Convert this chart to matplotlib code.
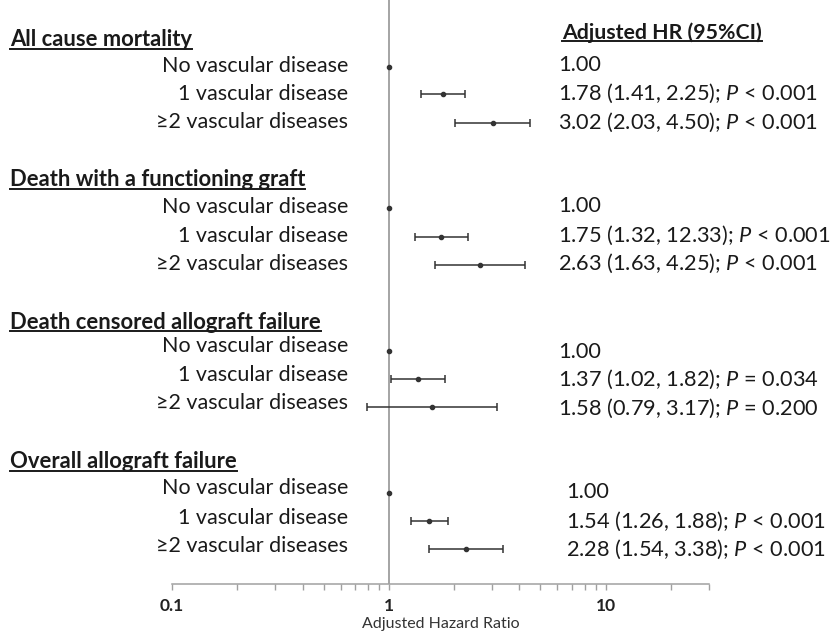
import matplotlib
matplotlib.use("Agg")
import matplotlib.pyplot as plt
from matplotlib.lines import Line2D
import numpy as np

plt.rcParams['font.family'] = ['Lato', 'DejaVu Sans']
plt.rcParams['mathtext.fontset'] = 'custom'
plt.rcParams['mathtext.rm'] = 'Lato'
plt.rcParams['mathtext.it'] = 'Lato:italic'
plt.rcParams['mathtext.bf'] = 'Lato:bold'

# ---- data ----
outcomes = ["All cause mortality", "Death with a functioning graft",
            "Death censored allograft failure", "Overall allograft failure"]
categories = ["No vascular disease", "1 vascular disease", "\u22652 vascular diseases"]
hr = [[1.00, 1.78, 3.02],
      [1.00, 1.75, 2.63],
      [1.00, 1.37, 1.58],
      [1.00, 1.54, 2.28]]
ci_low = [[1.00, 1.41, 2.03],
          [1.00, 1.32, 1.63],
          [1.00, 1.02, 0.79],
          [1.00, 1.26, 1.54]]
ci_high = [[1.00, 2.25, 4.50],
           [1.00, 2.33, 4.25],
           [1.00, 1.82, 3.17],
           [1.00, 1.88, 3.38]]
labels_right = [["1.00", "1.78 (1.41, 2.25); $P$ < 0.001", "3.02 (2.03, 4.50); $P$ < 0.001"],
                ["1.00", "1.75 (1.32, 12.33); $P$ < 0.001", "2.63 (1.63, 4.25); $P$ < 0.001"],
                ["1.00", "1.37 (1.02, 1.82); $P$ = 0.034", "1.58 (0.79, 3.17); $P$ = 0.200"],
                ["1.00", "1.54 (1.26, 1.88); $P$ < 0.001", "2.28 (1.54, 3.38); $P$ < 0.001"]]
tick_vals = [0.1, 1, 10]
tick_labels = ["0.1", "1", "10"]

# ---- layout (pixel rows) ----
W, H = 835, 632
marker_y = [[67, 94, 123], [208, 237, 265], [351, 379, 407], [493, 521, 549]]
left_y = [[66, 94, 122], [207, 236, 264], [346, 375, 403], [488, 518, 546]]
right_y = [[65, 93, 122], [206, 235, 263], [352, 379, 408], [492, 521, 549]]
header_y = [40, 180, 322, 462]
right_x = [558, 558, 558, 566]

fig = plt.figure(figsize=(W / 100, H / 100), dpi=100)
x0, x1 = 172, 709
ax = fig.add_axes([x0 / W, 1 - 584 / H, (x1 - x0) / W, 584 / H])
ax.set_xscale('log')
ax.set_xlim(0.1, 30)
ax.set_ylim(584, 0)

ink = '#333333'
for g in range(4):
    for r in range(3):
        y = marker_y[g][r]
        h = hr[g][r]
        lo, hi = ci_low[g][r], ci_high[g][r]
        if r == 0:
            ax.plot([h], [y], marker='o', ms=3.0, color=ink, zorder=3)
        else:
            ax.errorbar([h], [y], xerr=[[h - lo], [hi - h]], fmt='o', ms=3.0,
                        color=ink, ecolor=ink, elinewidth=1.1, capsize=2.6,
                        capthick=1.1, zorder=3)

ax.axvline(1, color='#8c8c8c', lw=1.1, zorder=1)

for s in ['top', 'right', 'left']:
    ax.spines[s].set_visible(False)
ax.spines['bottom'].set_color('#a0a0a0')
ax.spines['bottom'].set_linewidth(1.1)
ax.set_yticks([])
ax.set_xticks(tick_vals)
ax.set_xticklabels(tick_labels, fontsize=12.5, fontweight='bold', color='#222222')
minor = [v * m for v in [0.1, 1] for m in range(2, 10)] + [20, 30]
ax.set_xticks(minor, minor=True)
ax.set_xticklabels([], minor=True)
ax.tick_params(axis='x', which='both', direction='out', length=4, width=1,
               color='#a0a0a0', pad=6)
ax.set_xlabel("Adjusted Hazard Ratio", fontsize=11.5, color='#333333', labelpad=2)

def fy(py):
    return 1 - py / H

txt = '#1a1a1a'
headers = []
for g in range(4):
    t = fig.text(10 / W, fy(header_y[g]), outcomes[g], fontsize=15.8, fontweight='bold',
                 color=txt, ha='left', va='center')
    headers.append(t)
    for r in range(3):
        fig.text(348 / W, fy(left_y[g][r]), categories[r], fontsize=15.5, color=txt,
                 ha='right', va='center')
        fig.text(right_x[g] / W, fy(right_y[g][r]), labels_right[g][r], fontsize=15.7,
                 color=txt, ha='left', va='center')

hdr = fig.text(562 / W, fy(33), "Adjusted HR (95%CI)", fontsize=15.3, fontweight='bold',
               color=txt, ha='left', va='center')
headers.append(hdr)

fig.canvas.draw()
renderer = fig.canvas.get_renderer()
for t in headers:
    bb = t.get_window_extent(renderer)
    yy = bb.y0 + 2
    fig.add_artist(Line2D([bb.x0 / W, bb.x1 / W], [yy / H, yy / H], color=txt, lw=1.4,
                          transform=fig.transFigure))

fig.savefig("out.png", dpi=100)
